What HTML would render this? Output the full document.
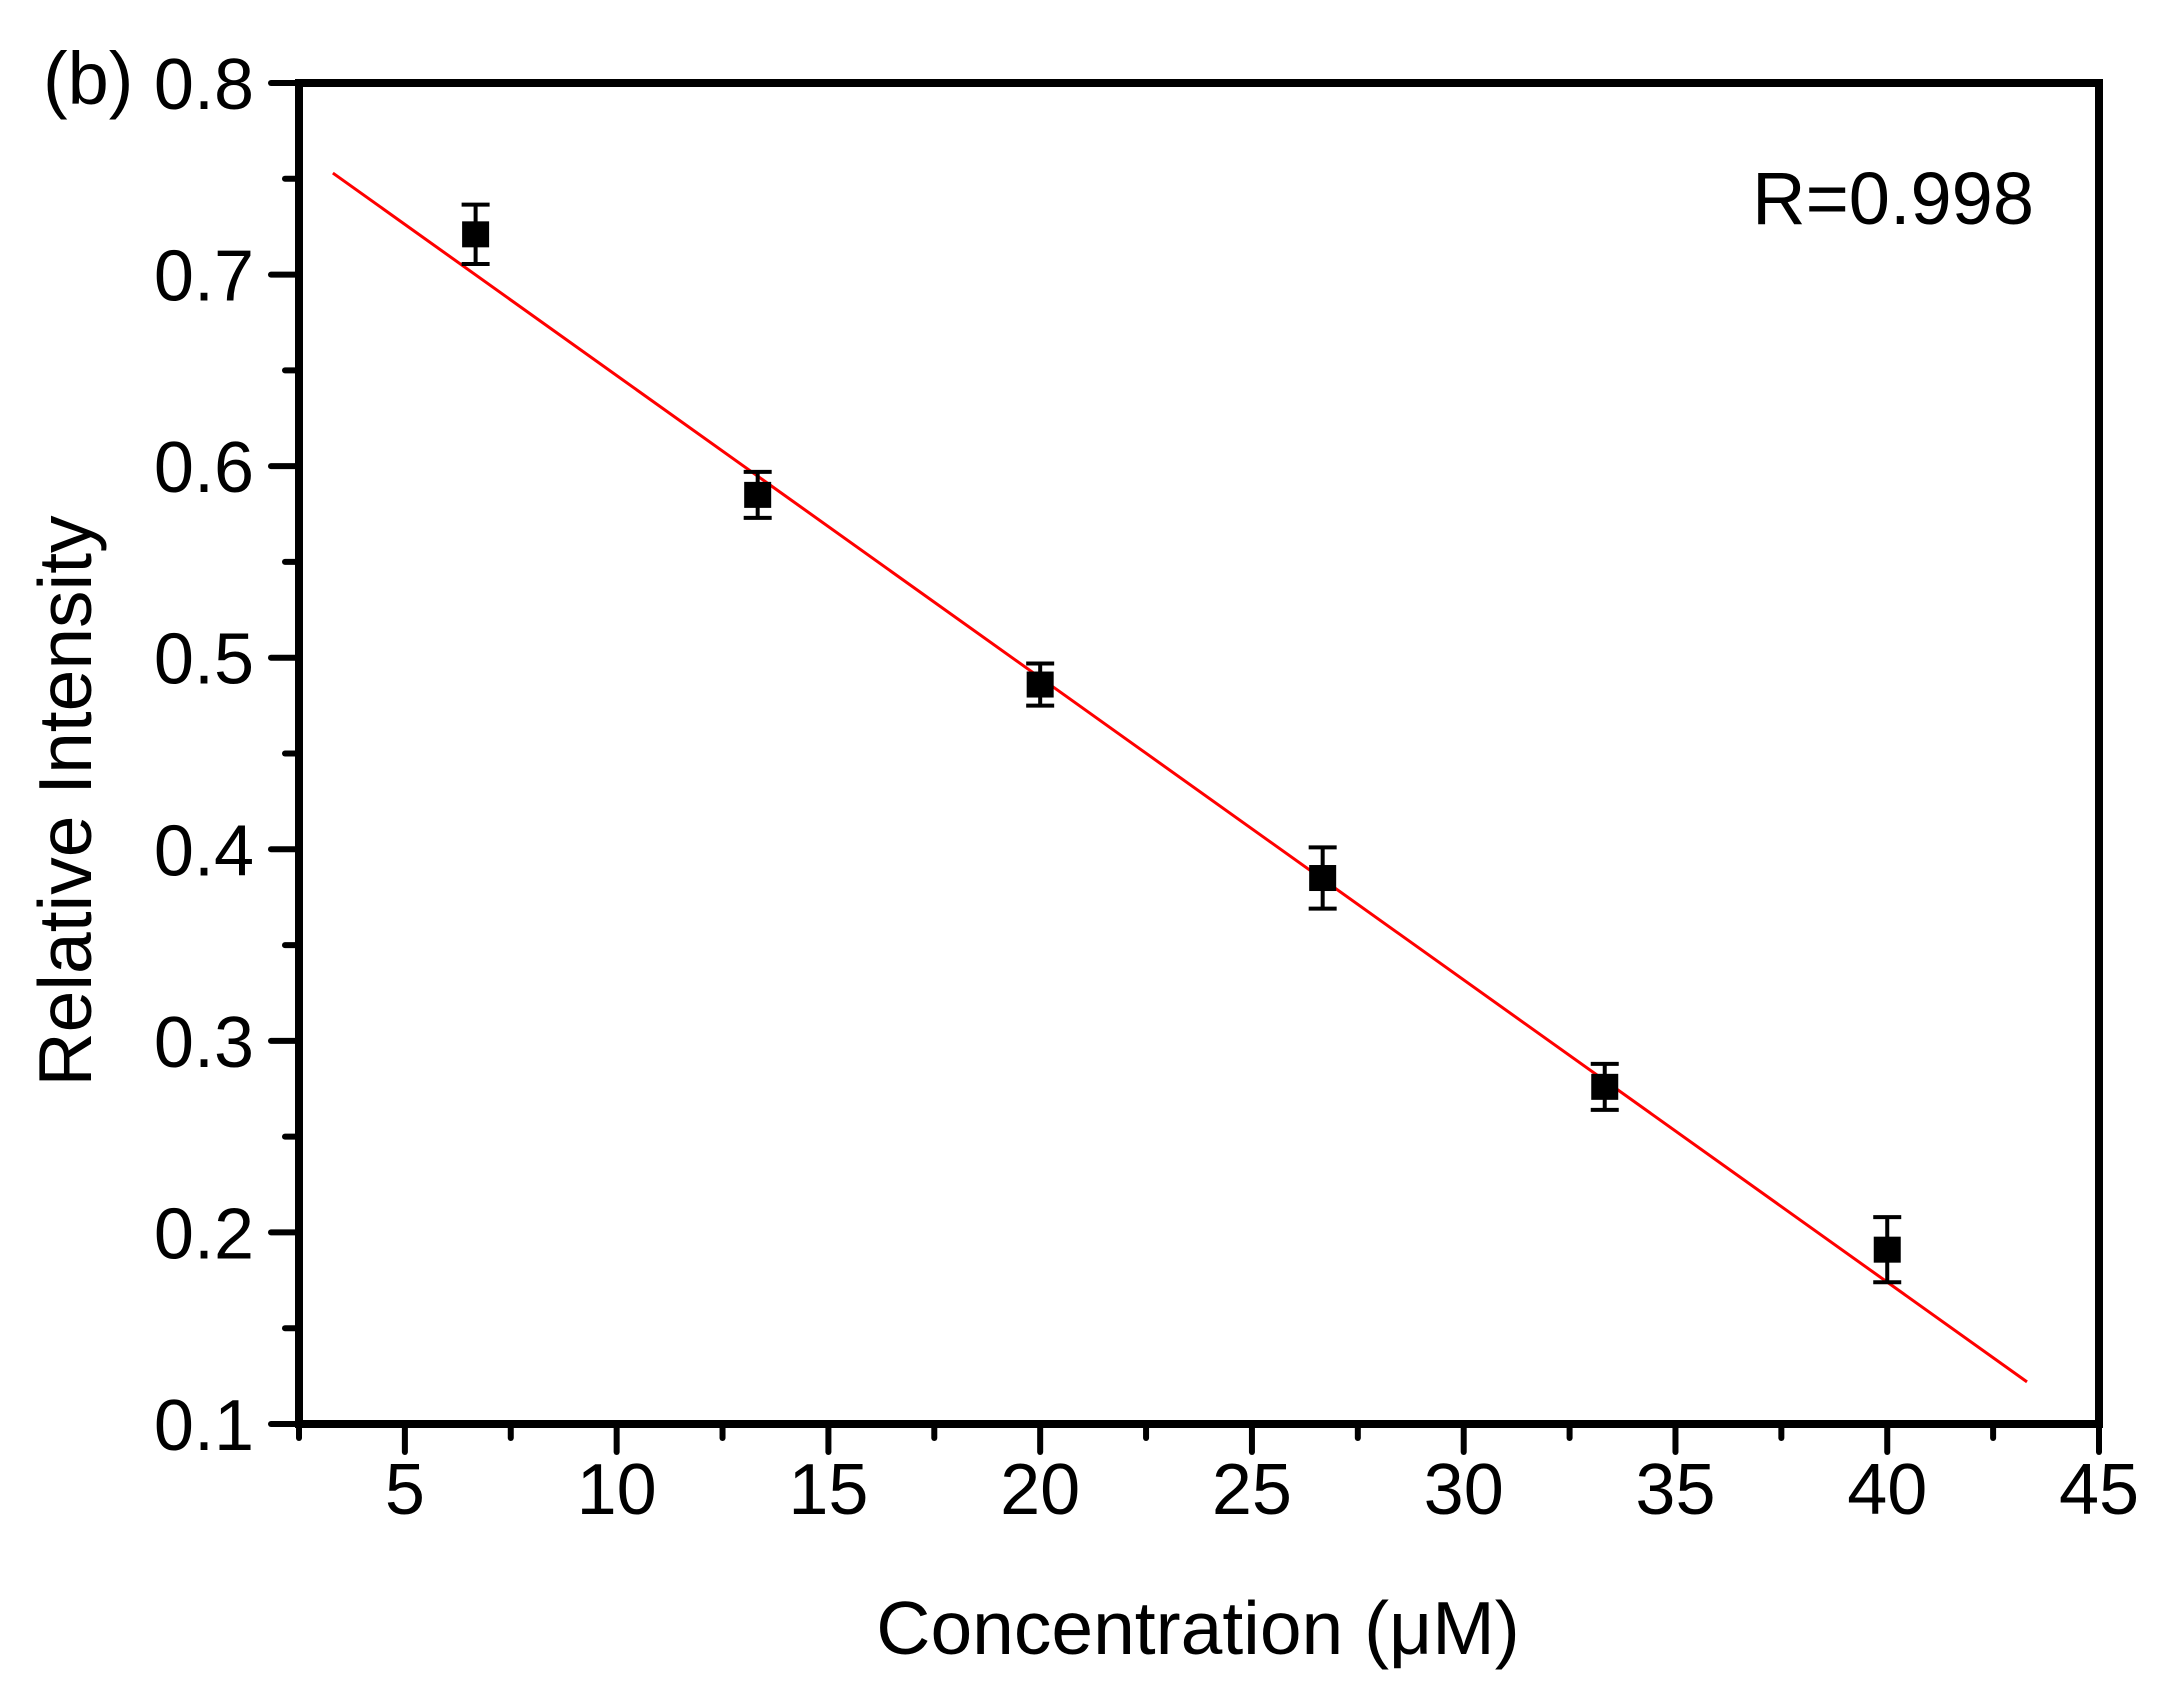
<!DOCTYPE html>
<html><head><meta charset="utf-8"><style>
html,body{margin:0;padding:0;background:#fff}
svg{display:block}
text{font-family:"Liberation Sans",Arial,sans-serif;fill:#000}
</style></head><body>
<svg id="chart" width="2166" height="1706" viewBox="0 0 2166 1706">
</svg>
<script>
const xTicks = [5,10,15,20,25,30,35,40,45];
const yTicks = [0.1,0.2,0.3,0.4,0.5,0.6,0.7,0.8];
const concentrations = [6.67,13.33,20,26.67,33.33,40];
const intensities = [0.721,0.585,0.486,0.385,0.276,0.191];
const errors = [0.0155,0.012,0.011,0.016,0.012,0.017];
const fitX = [3.3,43.3];
const fitY = [0.753,0.122];

const L=299,R=2099,T=83,B=1424,XMIN=2.5,XMAX=45,YMIN=0.1,YMAX=0.8;
const sx=v=>L+(v-XMIN)/(XMAX-XMIN)*(R-L);
const sy=v=>B-(v-YMIN)/(YMAX-YMIN)*(B-T);
const NS='http://www.w3.org/2000/svg';
const svg=document.getElementById('chart');
function mk(tag,attrs,parent){const e=document.createElementNS(NS,tag);for(const k in attrs)e.setAttribute(k,attrs[k]);(parent||svg).appendChild(e);return e;}

const fit=mk('line',{x1:sx(fitX[0]),y1:sy(fitY[0]),x2:sx(fitX[1]),y2:sy(fitY[1]),stroke:'#ff0000','stroke-width':3});



concentrations.forEach((c,i)=>{
  const g=mk('g',{});
  
  
  const x=sx(c),y=sy(intensities[i]),yt=sy(intensities[i]+errors[i]),yb=sy(intensities[i]-errors[i]);
  mk('line',{x1:x,y1:yt,x2:x,y2:yb,stroke:'#000','stroke-width':4},g);
  mk('line',{x1:x-14,y1:yt,x2:x+14,y2:yt,stroke:'#000','stroke-width':4},g);
  mk('line',{x1:x-14,y1:yb,x2:x+14,y2:yb,stroke:'#000','stroke-width':4},g);
  mk('rect',{x:x-13.5,y:y-13,width:27,height:26,fill:'#000'},g);
});

const box=mk('rect',{x:L,y:T,width:R-L,height:B-T,fill:'none',stroke:'#000','stroke-width':8});



xTicks.forEach(v=>{
  mk('line',{x1:sx(v),y1:B,x2:sx(v),y2:B+28,stroke:'#000','stroke-width':6,'stroke-linecap':'round'});
  const t=mk('text',{x:sx(v),y:B+90,'font-size':72,'text-anchor':'middle'});
  t.textContent=v;
  
  
});
for(let v=2.5;v<=45;v+=5){mk('line',{x1:sx(v),y1:B,x2:sx(v),y2:B+14,stroke:'#000','stroke-width':6,'stroke-linecap':'round'});}
yTicks.forEach(v=>{
  mk('line',{x1:L,y1:sy(v),x2:L-28,y2:sy(v),stroke:'#000','stroke-width':6,'stroke-linecap':'round'});
  const t=mk('text',{x:254,y:sy(v)+26,'font-size':72,'text-anchor':'end'});
  t.textContent=v.toFixed(1);
  
  
});
for(let v=0.15;v<0.8;v+=0.1){mk('line',{x1:L,y1:sy(v),x2:L-14,y2:sy(v),stroke:'#000','stroke-width':6,'stroke-linecap':'round'});}

let t=mk('text',{x:1198,y:1654,'font-size':75,'text-anchor':'middle'});
t.textContent='Concentration (\u03BCM)';


t=mk('text',{x:0,y:0,'font-size':75,'text-anchor':'middle',transform:'translate(91,801) rotate(-90)'});
t.textContent='Relative Intensity';


t=mk('text',{x:2034,y:224,'font-size':74,'text-anchor':'end'});
t.textContent='R=0.998';


t=mk('text',{x:43,y:104,'font-size':74});
t.textContent='(b)';


</script>
</body></html>
